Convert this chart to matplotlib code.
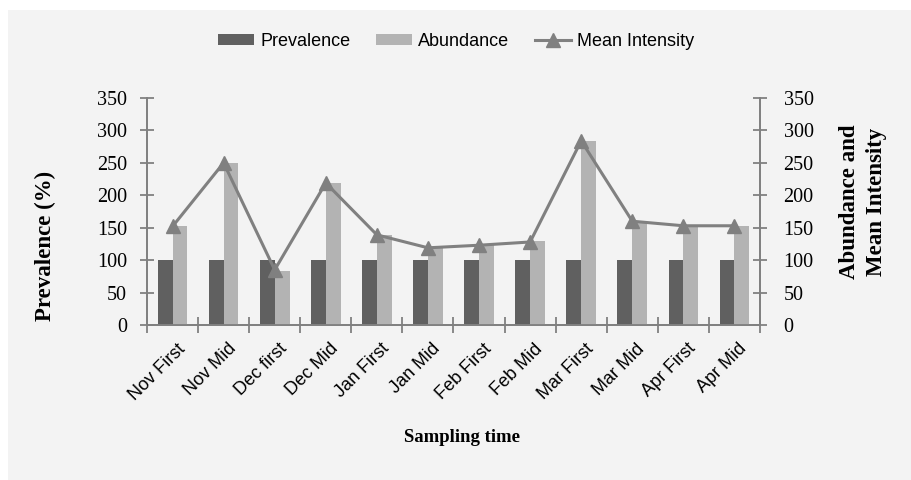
import matplotlib
matplotlib.use("Agg")
import numpy as np
import matplotlib.pyplot as plt
from matplotlib.patches import Rectangle
from matplotlib.ticker import FixedLocator, NullFormatter

# sampling periods and measured values
periods = ["Nov First", "Nov Mid", "Dec first", "Dec Mid", "Jan First", "Jan Mid",
           "Feb First", "Feb Mid", "Mar First", "Mar Mid", "Apr First", "Apr Mid"]
prevalence = [100, 100, 100, 100, 100, 100, 100, 100, 100, 100, 100, 100]
abundance = [152, 250, 83, 219, 138, 119, 123, 130, 284, 157, 152, 152]
mean_intensity = [152, 250, 85, 219, 139, 119, 123, 128, 284, 160, 153, 153]
yticks = [0, 50, 100, 150, 200, 250, 300, 350]

c_prev = "#606060"
c_abun = "#b3b3b3"
c_line = "#808080"
c_axis = "#808080"
bg = "#f3f3f3"

fig = plt.figure(figsize=(9.12, 4.8), dpi=100, facecolor="white")
fig.patches.append(Rectangle((8 / 912, 0), 1, 1 - 10 / 480, transform=fig.transFigure,
                             facecolor=bg, edgecolor="none", zorder=-10))

ax = fig.add_axes([147 / 912, 1 - 325 / 480, (760 - 147) / 912, (325 - 98) / 480])
ax.set_facecolor("none")
ax2 = ax.twinx()

x = np.arange(len(periods))
w = 0.29
b1 = ax.bar(x - w / 2, prevalence, width=w, color=c_prev, label="Prevalence")
b2 = ax2.bar(x + w / 2, abundance, width=w, color=c_abun, label="Abundance")
ln, = ax2.plot(x, mean_intensity, color=c_line, lw=2.2, marker="^", markersize=10.5,
               label="Mean Intensity")

for a, pad in ((ax, 9.5), (ax2, 12)):
    a.set_ylim(0, 350)
    a.set_yticks(yticks)
    a.set_xlim(-0.5, len(periods) - 0.5)
    a.spines["top"].set_visible(False)
    for s in a.spines.values():
        s.set_color(c_axis)
        s.set_linewidth(1.3)
    a.tick_params(axis="y", direction="inout", length=10, width=1.3, color=c_axis,
                  labelsize=14.5, pad=pad)
    for t in a.get_yticklabels():
        t.set_fontfamily("Liberation Serif")

# category labels at the centres, tick marks between the groups
ax.set_xticks(x)
ax.set_xticklabels(periods, rotation=45, ha="right", rotation_mode="anchor",
                   fontsize=13, fontfamily="Liberation Sans")
ax.tick_params(axis="x", which="major", length=0, pad=11)
ax.xaxis.set_minor_locator(FixedLocator(np.arange(-0.5, len(periods), 1.0)))
ax.xaxis.set_minor_formatter(NullFormatter())
ax.tick_params(axis="x", which="minor", direction="inout", length=12, width=1.3, color=c_axis)
for t in ax.get_xticklabels():
    t.set_transform(t.get_transform() + matplotlib.transforms.ScaledTranslation(0.04, 0, fig.dpi_scale_trans))

fig.text(45 / 912, 1 - 246 / 480, "Prevalence (%)", rotation=90, ha="center", va="center",
         fontsize=16.5, fontweight="bold", fontfamily="Liberation Serif")
fig.text(863 / 912, 1 - 202 / 480, "Abundance and\nMean Intensity", rotation=90, ha="center",
         va="center", fontsize=16.5, fontweight="bold", fontfamily="Liberation Serif",
         linespacing=1.35)
fig.text(462 / 912, 1 - 437 / 480, "Sampling time", ha="center", va="center",
         fontsize=13.5, fontweight="bold", fontfamily="Liberation Serif")

fig.legend([b1, b2, ln], ["Prevalence", "Abundance", "Mean Intensity"], loc="center",
           bbox_to_anchor=(0.5, 1 - 41 / 480), ncol=3, frameon=False,
           prop={"family": "Liberation Sans", "size": 13}, handlelength=2.0,
           handleheight=0.55, handletextpad=0.35, columnspacing=1.4)

fig.savefig("out.png", dpi=100, facecolor="white")
